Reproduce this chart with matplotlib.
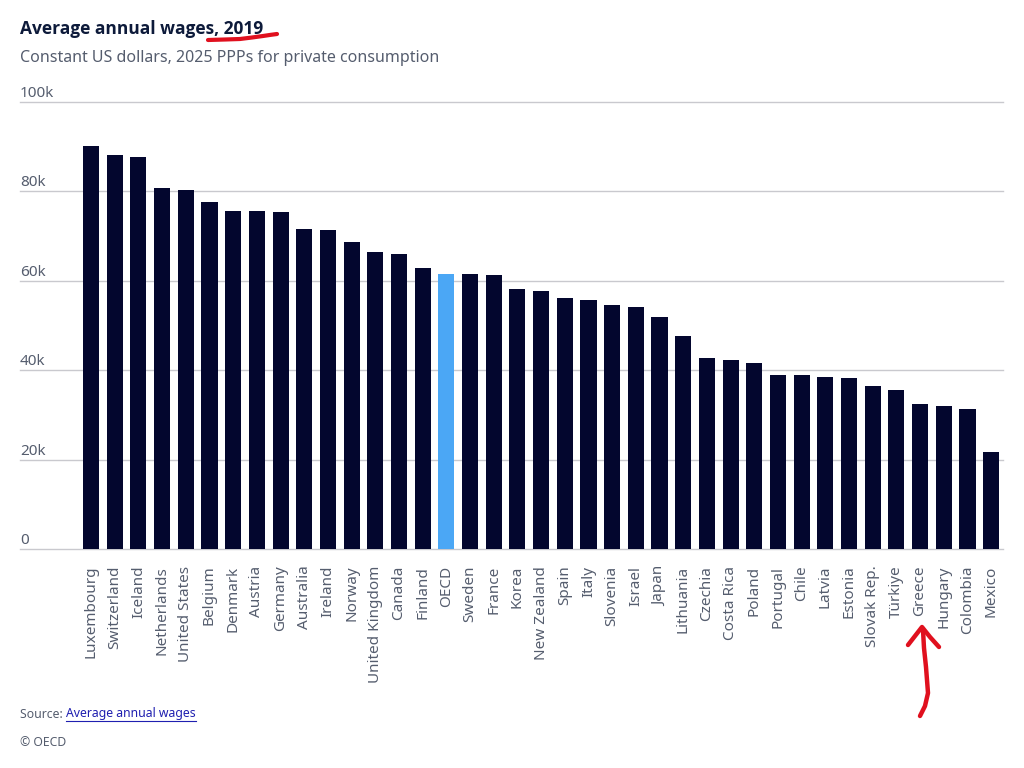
import matplotlib
matplotlib.use("Agg")
import matplotlib.pyplot as plt
import matplotlib.transforms as mtransforms

# data (US dollars)
countries = ["Luxembourg", "Switzerland", "Iceland", "Netherlands", "United States",
             "Belgium", "Denmark", "Austria", "Germany", "Australia", "Ireland",
             "Norway", "United Kingdom", "Canada", "Finland", "OECD", "Sweden",
             "France", "Korea", "New Zealand", "Spain", "Italy", "Slovenia",
             "Israel", "Japan", "Lithuania", "Czechia", "Costa Rica", "Poland",
             "Portugal", "Chile", "Latvia", "Estonia", "Slovak Rep.", "Türkiye",
             "Greece", "Hungary", "Colombia", "Mexico"]
wages = [90200, 88100, 87800, 80800, 80300, 77600, 75600, 75600, 75300, 71600,
         71300, 68700, 66400, 66000, 62900, 61600, 61600, 61200, 58200, 57800,
         56200, 55700, 54600, 54100, 52000, 47700, 42700, 42300, 41600, 38900,
         38900, 38500, 38300, 36400, 35600, 32400, 32000, 31300, 21700]
highlight = "OECD"
yticks = [0, 20000, 40000, 60000, 80000, 100000]
ytick_labels = ["0", "20k", "40k", "60k", "80k", "100k"]

plt.rcParams["font.family"] = ["Noto Sans", "DejaVu Sans"]

navy = "#03062e"
light_blue = "#4ba7f5"
gray_text = "#555d6e"
grid_col = "#c9c9ce"

fig = plt.figure(figsize=(10.24, 7.68), dpi=100)
ax = fig.add_axes([20 / 1024, 1 - 549 / 768, (1003 - 20) / 1024, (549 - 102) / 768])

colors = [light_blue if c == highlight else navy for c in countries]
x = list(range(len(countries)))
ax.bar(x, wages, width=0.68, color=colors, zorder=2)

ax.set_xlim(-3.0, 38.5)
ax.set_ylim(0, 100000)

# gridlines and left-aligned labels above them
label_tf = mtransforms.offset_copy(ax.get_yaxis_transform(), fig=fig, x=0, y=1, units="dots")
for v, lab in zip(yticks, ytick_labels):
    ax.axhline(v, color=grid_col, lw=1, zorder=1, clip_on=False)
    ax.text(0, v, lab, transform=label_tf, ha="left", va="bottom",
            fontsize=11, color=gray_text)

ax.set_yticks([])
ax.set_xticks(x)
ax.set_xticklabels(countries, rotation=90, fontsize=11, color=gray_text)
ax.tick_params(axis="x", length=0, pad=12)
for s in ax.spines.values():
    s.set_visible(False)

# titles
fig.text(20 / 1024, 1 - 29 / 768, "Average annual wages, 2019", fontsize=12.5,
         fontweight="bold", family=["Open Sans", "DejaVu Sans"], color="#0d1a3a", va="center")
fig.text(20 / 1024, 1 - 58 / 768, "Constant US dollars, 2025 PPPs for private consumption",
         fontsize=11.5, color=gray_text, va="center")

# footer
src = fig.text(20 / 1024, 1 - 714 / 768, "Source: ", fontsize=8.8, color=gray_text, va="center")
fig.canvas.draw()
bb = src.get_window_extent()
link = fig.text(bb.x1 / 1024, 1 - 714 / 768, "Average annual wages", fontsize=8.8,
                color="#1f1fb0", va="center")
fig.canvas.draw()
lb = link.get_window_extent()
fig.add_artist(plt.Line2D([lb.x0 / 1024, lb.x1 / 1024], [1 - 721 / 768, 1 - 721 / 768],
                          color="#1f1fb0", lw=0.8))
fig.text(20 / 1024, 1 - 743 / 768, "© OECD", fontsize=8.8, color=gray_text, va="center")

# red hand-drawn marks
def px(xs, ys):
    return [v / 1024 for v in xs], [1 - v / 768 for v in ys]

red = "#e0101e"
ux, uy = px([208, 225, 240, 252, 263, 271, 277],
            [40, 39.5, 39, 37.5, 36, 34.8, 34])
fig.add_artist(plt.Line2D(ux, uy, color=red, lw=3.0, solid_capstyle="round"))
sx, sy = px([920, 925, 928, 927, 926, 924, 923],
            [716, 706, 693, 680, 667, 648, 630])
fig.add_artist(plt.Line2D(sx, sy, color=red, lw=3.2, solid_capstyle="round"))
hx, hy = px([908, 915, 922, 930, 939], [645, 636, 627, 637, 647])
fig.add_artist(plt.Line2D(hx, hy, color=red, lw=3.2, solid_capstyle="round",
                          solid_joinstyle="round"))

fig.savefig("out.png", dpi=100, facecolor="white")
